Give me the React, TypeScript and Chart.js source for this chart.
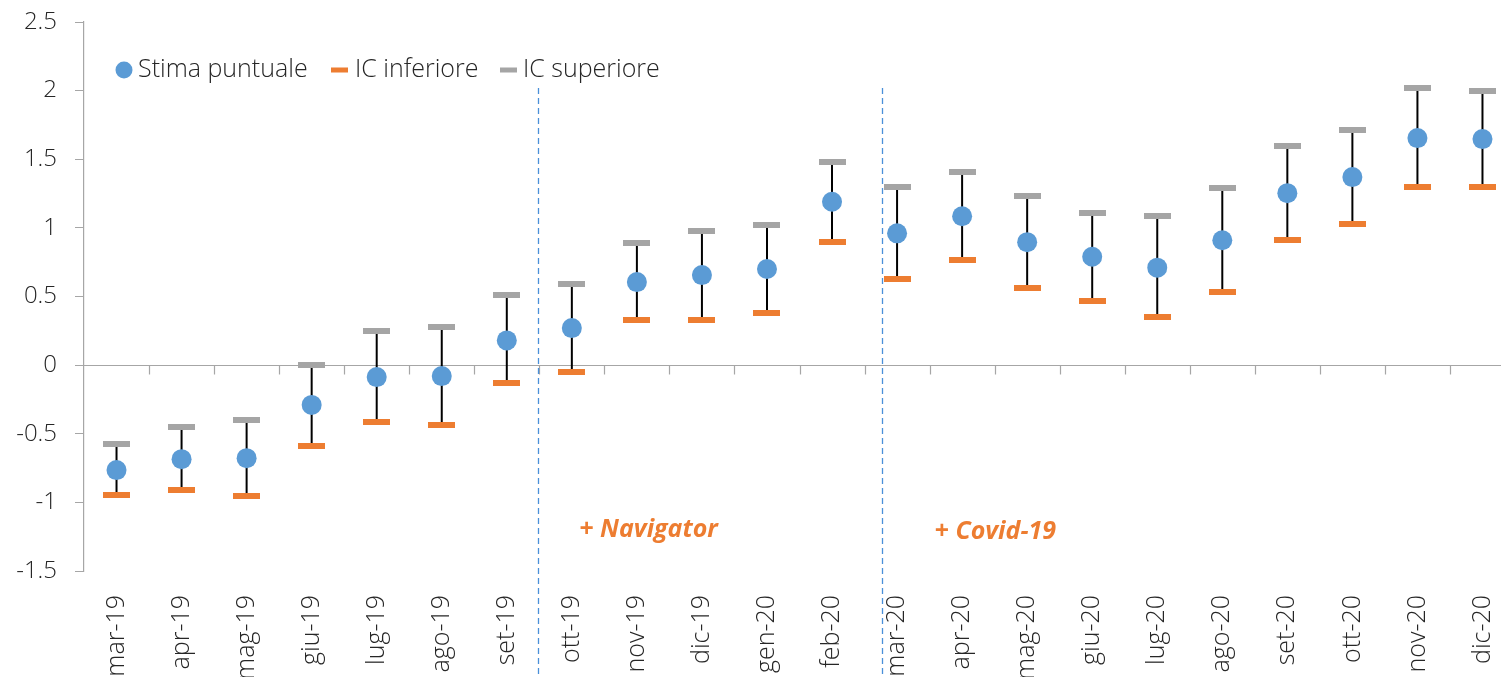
import React, { useEffect, useRef } from 'react';
import { Chart, registerables } from 'chart.js';
Chart.register(...registerables);

const categories = ['mar-19', 'apr-19', 'mag-19', 'giu-19', 'lug-19', 'ago-19', 'set-19', 'ott-19', 'nov-19', 'dic-19', 'gen-20', 'feb-20', 'mar-20', 'apr-20', 'mag-20', 'giu-20', 'lug-20', 'ago-20', 'set-20', 'ott-20', 'nov-20', 'dic-20'];
const stimaPuntuale = [-0.765, -0.685, -0.678, -0.29, -0.087, -0.08, 0.18, 0.27, 0.605, 0.656, 0.7, 1.19, 0.96, 1.085, 0.896, 0.79, 0.71, 0.91, 1.253, 1.37, 1.654, 1.647];
const icInferiore = [-0.947, -0.91, -0.955, -0.59, -0.415, -0.437, -0.13, -0.05, 0.33, 0.33, 0.38, 0.896, 0.63, 0.765, 0.56, 0.47, 0.35, 0.53, 0.91, 1.027, 1.297, 1.3];
const icSuperiore = [-0.576, -0.45, -0.4, 0.0, 0.248, 0.277, 0.51, 0.59, 0.89, 0.98, 1.02, 1.48, 1.3, 1.41, 1.23, 1.11, 1.085, 1.29, 1.6, 1.71, 2.018, 2.0];
const yMin = -1.5;
const yMax = 2.5;
const yStep = 0.5;
const separatorPositions = [6.48, 11.77];
const annotationTexts = ['+ Navigator', '+ Covid-19'];
const annotationX = [8.18, 13.51];
const annotationY = [-1.2, -1.215];
const legendLabels = ['Stima puntuale', 'IC inferiore', 'IC superiore'];

const BLUE = '#5B9BD5';
const ORANGE = '#ED7D31';
const GRAY = '#A5A5A5';
const AXIS = '#A6A6A6';
const FONT = "'Open Sans', 'DejaVu Sans', sans-serif";

function makeDash(color: string, w: number, h: number) {
  const c = document.createElement('canvas');
  c.width = w;
  c.height = h;
  const g = c.getContext('2d')!;
  g.fillStyle = color;
  g.fillRect(0, 0, w, h);
  return c;
}

export default function App() {
  const ref = useRef<HTMLCanvasElement>(null);
  useEffect(() => {
    document.body.style.margin = '0';
    const canvas = ref.current!;
    const orangeDash = makeDash(ORANGE, 27, 6);
    const grayDash = makeDash(GRAY, 27, 6);

    const extras = {
      id: 'extras',
      beforeDatasetsDraw(chart: any) {
        const { ctx, chartArea, scales } = chart;
        const x = scales.x;
        const y = scales.y;
        ctx.save();
        // zero line
        const y0 = Math.round(y.getPixelForValue(0)) + 0.5;
        ctx.strokeStyle = AXIS;
        ctx.lineWidth = 1.2;
        ctx.beginPath();
        ctx.moveTo(chartArea.left - 9, y0);
        ctx.lineTo(chartArea.right, y0);
        ctx.stroke();
        // category tick marks
        for (let i = 1; i <= categories.length; i++) {
          const px = Math.round(x.getPixelForValue(i - 0.5)) + 0.5;
          ctx.beginPath();
          ctx.moveTo(px, y0);
          ctx.lineTo(px, y0 + 9);
          ctx.stroke();
        }
        // separators
        ctx.strokeStyle = '#4A90D9';
        ctx.lineWidth = 1.3;
        ctx.setLineDash([6, 4]);
        separatorPositions.forEach((p) => {
          const px = Math.round(x.getPixelForValue(p)) + 0.5;
          ctx.beginPath();
          ctx.moveTo(px, 88);
          ctx.lineTo(px, chart.height);
          ctx.stroke();
        });
        ctx.setLineDash([]);
        // error bars
        ctx.strokeStyle = '#000000';
        ctx.lineWidth = 2;
        categories.forEach((_, i) => {
          const px = x.getPixelForValue(i);
          ctx.beginPath();
          ctx.moveTo(px, y.getPixelForValue(icSuperiore[i]));
          ctx.lineTo(px, y.getPixelForValue(icInferiore[i]));
          ctx.stroke();
        });
        // annotations
        ctx.fillStyle = ORANGE;
        ctx.font = `italic bold 25px ${FONT}`;
        ctx.textAlign = 'center';
        ctx.textBaseline = 'middle';
        annotationTexts.forEach((t, i) => {
          ctx.fillText(t, x.getPixelForValue(annotationX[i]), y.getPixelForValue(annotationY[i]));
        });
        ctx.restore();
      },
      afterDraw(chart: any) {
        const { ctx } = chart;
        ctx.save();
        const ly = 70;
        ctx.font = `300 25px ${FONT}`;
        ctx.textAlign = 'left';
        ctx.textBaseline = 'middle';
        ctx.fillStyle = BLUE;
        ctx.beginPath();
        ctx.arc(124, ly, 8.5, 0, Math.PI * 2);
        ctx.fill();
        ctx.fillStyle = '#262626';
        ctx.fillText(legendLabels[0], 138, ly);
        ctx.fillStyle = ORANGE;
        ctx.fillRect(331, ly - 2.5, 17, 5);
        ctx.fillStyle = '#262626';
        ctx.fillText(legendLabels[1], 355, ly);
        ctx.fillStyle = GRAY;
        ctx.fillRect(500, ly - 2.5, 17, 5);
        ctx.fillStyle = '#262626';
        ctx.fillText(legendLabels[2], 523, ly);
        ctx.restore();
      },
    };

    const chart = new Chart(canvas, {
      type: 'line',
      data: {
        labels: categories,
        datasets: [
          {
            label: legendLabels[2],
            data: icSuperiore,
            showLine: false,
            pointStyle: grayDash as any,
            pointRadius: 10,
            order: 3,
          },
          {
            label: legendLabels[1],
            data: icInferiore,
            showLine: false,
            pointStyle: orangeDash as any,
            pointRadius: 10,
            order: 2,
          },
          {
            label: legendLabels[0],
            data: stimaPuntuale,
            showLine: false,
            pointStyle: 'circle',
            pointRadius: 10,
            pointBackgroundColor: BLUE,
            pointBorderColor: BLUE,
            pointBorderWidth: 0,
            order: 1,
          },
        ],
      },
      options: {
        responsive: false,
        animation: false,
        devicePixelRatio: 1,
        layout: { padding: { top: 22, right: 0, left: 0, bottom: 0 } },
        plugins: {
          legend: { display: false },
          tooltip: { enabled: false },
        },
        scales: {
          x: {
            type: 'category',
            offset: true,
            grid: { display: false },
            border: { display: false },
            ticks: {
              autoSkip: false,
              minRotation: 90,
              maxRotation: 90,
              padding: 16,
              color: '#262626',
              font: { family: FONT, size: 25, weight: '300' as any },
            },
            afterFit(scale: any) {
              scale.height = 106;
              scale.paddingLeft = 0;
              scale.paddingRight = 0;
            },
          },
          y: {
            min: yMin,
            max: yMax,
            ticks: {
              stepSize: yStep,
              padding: 18,
              color: '#262626',
              font: { family: FONT, size: 24, weight: '300' as any },
              callback: (v: any) => String(v),
            },
            grid: { drawOnChartArea: false, drawTicks: true, tickLength: 9, color: AXIS, tickColor: AXIS },
            border: { display: true, color: AXIS, width: 1.2 },
            afterFit(scale: any) {
              scale.width = 84;
              scale.paddingTop = 0;
              scale.paddingBottom = 0;
            },
          },
        },
      },
      plugins: [extras],
    });
    return () => chart.destroy();
  }, []);
  return (
    <div style={{ width: 1501, height: 677, overflow: 'hidden', position: 'relative' }}>
      <canvas ref={ref} width={1526} height={677} style={{ display: 'block', width: 1526, height: 677 }} />
    </div>
  );
}
